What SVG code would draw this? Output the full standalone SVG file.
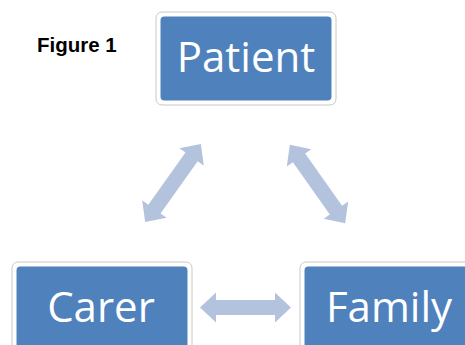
<svg xmlns="http://www.w3.org/2000/svg" xmlns:xlink="http://www.w3.org/1999/xlink" width="465" height="345" viewBox="0 0 465 345">
  <style>
    .frame { fill: #ffffff; stroke: #c8c8c8; stroke-width: 1; }
    .box { fill: #4f81bd; }
    .label { font-family: "Open Sans", "Noto Sans", sans-serif; font-size: 42px; fill: #ffffff; text-anchor: middle; }
    .title { font-family: "Liberation Sans", Arial, sans-serif; font-weight: bold; font-size: 20.5px; fill: #000000; }
    .link { fill: #b3c3dd; }
  </style>
  <defs>
    <!-- double-headed block arrow, centred on the origin along the x axis -->
    <path id="dbl" d="M-48,0 L-32,-15 L-32,-7.5 L32,-7.5 L32,-15 L48,0 L32,15 L32,7.5 L-32,7.5 L-32,15 Z"/>
  </defs>
  <rect width="465" height="345" fill="#ffffff"/>

  <text class="title" x="37" y="52">Figure 1</text>

  <g id="connectors">
    <use xlink:href="#dbl" class="link" transform="translate(173,183) rotate(-54.5)"/>
    <use xlink:href="#dbl" class="link" transform="translate(317.5,184) rotate(54.8)"/>
    <path class="link" d="M200,307.5 L216,292.5 L216,300 L275,300 L275,292.5 L291,307.5 L275,322.5 L275,315 L216,315 L216,322.5 Z"/>
  </g>

  <g id="patient">
    <rect class="frame" x="156" y="12" width="180" height="93" rx="6"/>
    <rect class="box" x="160.5" y="16.5" width="171" height="84" rx="4"/>
    <text class="label" x="246" y="72">Patient</text>
  </g>

  <g id="carer">
    <rect class="frame" x="12" y="262" width="180" height="93" rx="6"/>
    <rect class="box" x="16.5" y="266.5" width="171" height="84" rx="4"/>
    <text class="label" x="101" y="322">Carer</text>
  </g>

  <g id="family">
    <rect class="frame" x="300" y="262" width="180" height="93" rx="6"/>
    <rect class="box" x="304.5" y="266.5" width="171" height="84" rx="4"/>
    <text class="label" x="389" y="322">Family</text>
  </g>
</svg>
